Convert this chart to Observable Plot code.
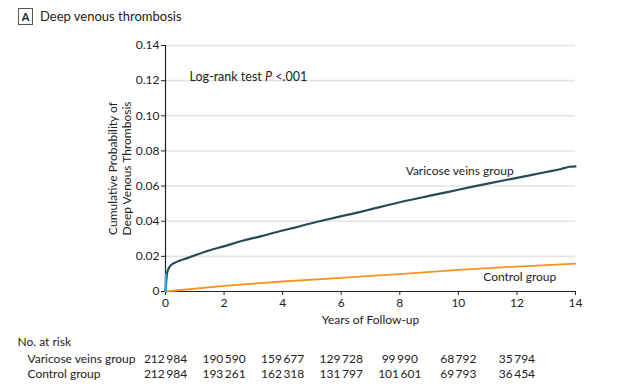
<!DOCTYPE html>
<html><head><meta charset="utf-8">
<script src="https://cdn.jsdelivr.net/npm/d3@7"></script>
<script src="https://cdn.jsdelivr.net/npm/@observablehq/plot@0.6"></script>
<style>
body{margin:0;background:#fff;font-family:Lato,"Roboto",sans-serif;color:#222}
#title{height:32px;position:relative}
#title .box{position:absolute;left:18px;top:8px;width:13px;height:15px;border:1px solid #555;font-weight:bold;font-size:11px;text-align:center;line-height:15px}
#title .t{position:absolute;left:40px;top:8px;font-size:13px;line-height:16px}
</style></head>
<body>
<div id="title"><div class="box">A</div><div class="t">Deep venous thrombosis</div></div>
<div id="chart"></div>
<script>
const varicoseT = [0,0.06,0.17,0.4,0.74,0.97,1.54,1.99,2.67,3.24,4.0,4.38,4.95,5.52,6.01,6.66,7.0,8.0,9.0,10.0,11.0,12.0,13.0,13.5,13.8,14.0];
const varicoseP = [0,0.0109,0.0147,0.017,0.019,0.0204,0.0236,0.0257,0.029,0.0314,0.0347,0.0362,0.0387,0.041,0.0429,0.0453,0.0467,0.0508,0.0544,0.0579,0.0614,0.0647,0.068,0.0697,0.0710,0.0712];
const earlyT = [0,0.01];
const earlyP = [0,0.0098];
const controlT = [0,2,4,6,7,8,10,12,14];
const controlP = [0,0.0032,0.0057,0.0078,0.0089,0.0099,0.0123,0.0142,0.0159];
const riskYears = [0,2,4,6,8,10,12];
const riskVaricose = ["212\u2009984","190\u2009590","159\u2009677","129\u2009728","99\u2009990","68\u2009792","35\u2009794"];
const riskControl = ["212\u2009984","193\u2009261","162\u2009318","131\u2009797","101\u2009601","69\u2009793","36\u2009454"];
const yTicks = [0,0.02,0.04,0.06,0.08,0.10,0.12,0.14];
const xTicks = [0,2,4,6,8,10,12,14];

const varicose = varicoseT.map((t,i)=>({t,p:varicoseP[i]}));
const early = earlyT.map((t,i)=>({t,p:earlyP[i]}));
const control = controlT.map((t,i)=>({t,p:controlP[i]}));
const rv = riskYears.map((t,i)=>({t,n:riskVaricose[i]}));
const rc = riskYears.map((t,i)=>({t,n:riskControl[i]}));
const font = 'Lato,Roboto,sans-serif';
const fs = 12;
const yfmt = d=> d===0 ? "0" : d.toFixed(2);

const chart = Plot.plot({
  width:640, height:360,
  marginLeft:165, marginRight:65, marginTop:13, marginBottom:101,
  style:{fontFamily:font, fontSize:"12px", color:"#222", background:"#fff", overflow:"visible"},
  x:{domain:[0,14], label:null},
  y:{domain:[0,0.14], label:null},
  marks:[
    Plot.ruleY(yTicks.filter(d=>d>0), {stroke:"#e4e4e4", strokeWidth:1.6}),
    Plot.axisX({ticks:xTicks, tickSize:4, tickPadding:3, fontSize:fs, stroke:"#222", label:null}),
    Plot.axisY({ticks:yTicks, tickSize:4, tickPadding:2, fontSize:fs, stroke:"#222", tickFormat:yfmt, label:null}),
    Plot.ruleX([0], {stroke:"#222", strokeWidth:1.2}),
    Plot.ruleY([0], {stroke:"#222", strokeWidth:1.2}),
    Plot.line(control, {x:"t", y:"p", stroke:"#f7941d", strokeWidth:1.8}),
    Plot.line(varicose, {x:"t", y:"p", stroke:"#264b59", strokeWidth:2.2, curve:"monotone-x"}),
    Plot.line(early, {x:"t", y:"p", stroke:"#2fb0e6", strokeWidth:2}),
    Plot.text(["Log-rank test P <.001"], {frameAnchor:"top-left", dx:24, dy:27, textAnchor:"start", fontSize:12.5, text:d=>d}),
    Plot.text(["Varicose veins group"], {x:8.2, y:0.0685, textAnchor:"start", fontSize:fs, text:d=>d}),
    Plot.text(["Control group"], {x:10.85, y:0.0081, textAnchor:"start", fontSize:fs, text:d=>d}),
    Plot.text(["Years of Follow-up"], {x:7, frameAnchor:"bottom", dy:32, fontSize:fs, text:d=>d}),
    Plot.text(["Cumulative Probability of"], {x:0, y:0.07, dx:-52, rotate:-90, fontSize:fs, text:d=>d}),
    Plot.text(["Deep Venous Thrombosis"], {x:0, y:0.07, dx:-38, rotate:-90, fontSize:fs, text:d=>d}),
    Plot.text(["No. at risk"], {frameAnchor:"bottom-left", dx:-148, dy:54, textAnchor:"start", fontSize:fs, text:d=>d}),
    Plot.text(["Varicose veins group"], {frameAnchor:"bottom-left", dx:-138, dy:71, textAnchor:"start", fontSize:fs, text:d=>d}),
    Plot.text(["Control group"], {frameAnchor:"bottom-left", dx:-138, dy:86, textAnchor:"start", fontSize:fs, text:d=>d}),
    Plot.text(rv, {x:"t", text:"n", frameAnchor:"bottom", dy:71, fontSize:fs}),
    Plot.text(rc, {x:"t", text:"n", frameAnchor:"bottom", dy:86, fontSize:fs})
  ]
});
document.getElementById("chart").appendChild(chart);
d3.select(chart).selectAll("text").each(function(){
  if (this.textContent === "Log-rank test P <.001") {
    this.innerHTML = 'Log-rank test <tspan font-style="italic">P</tspan> &lt;.001';
  }
});
</script>
</body></html>
